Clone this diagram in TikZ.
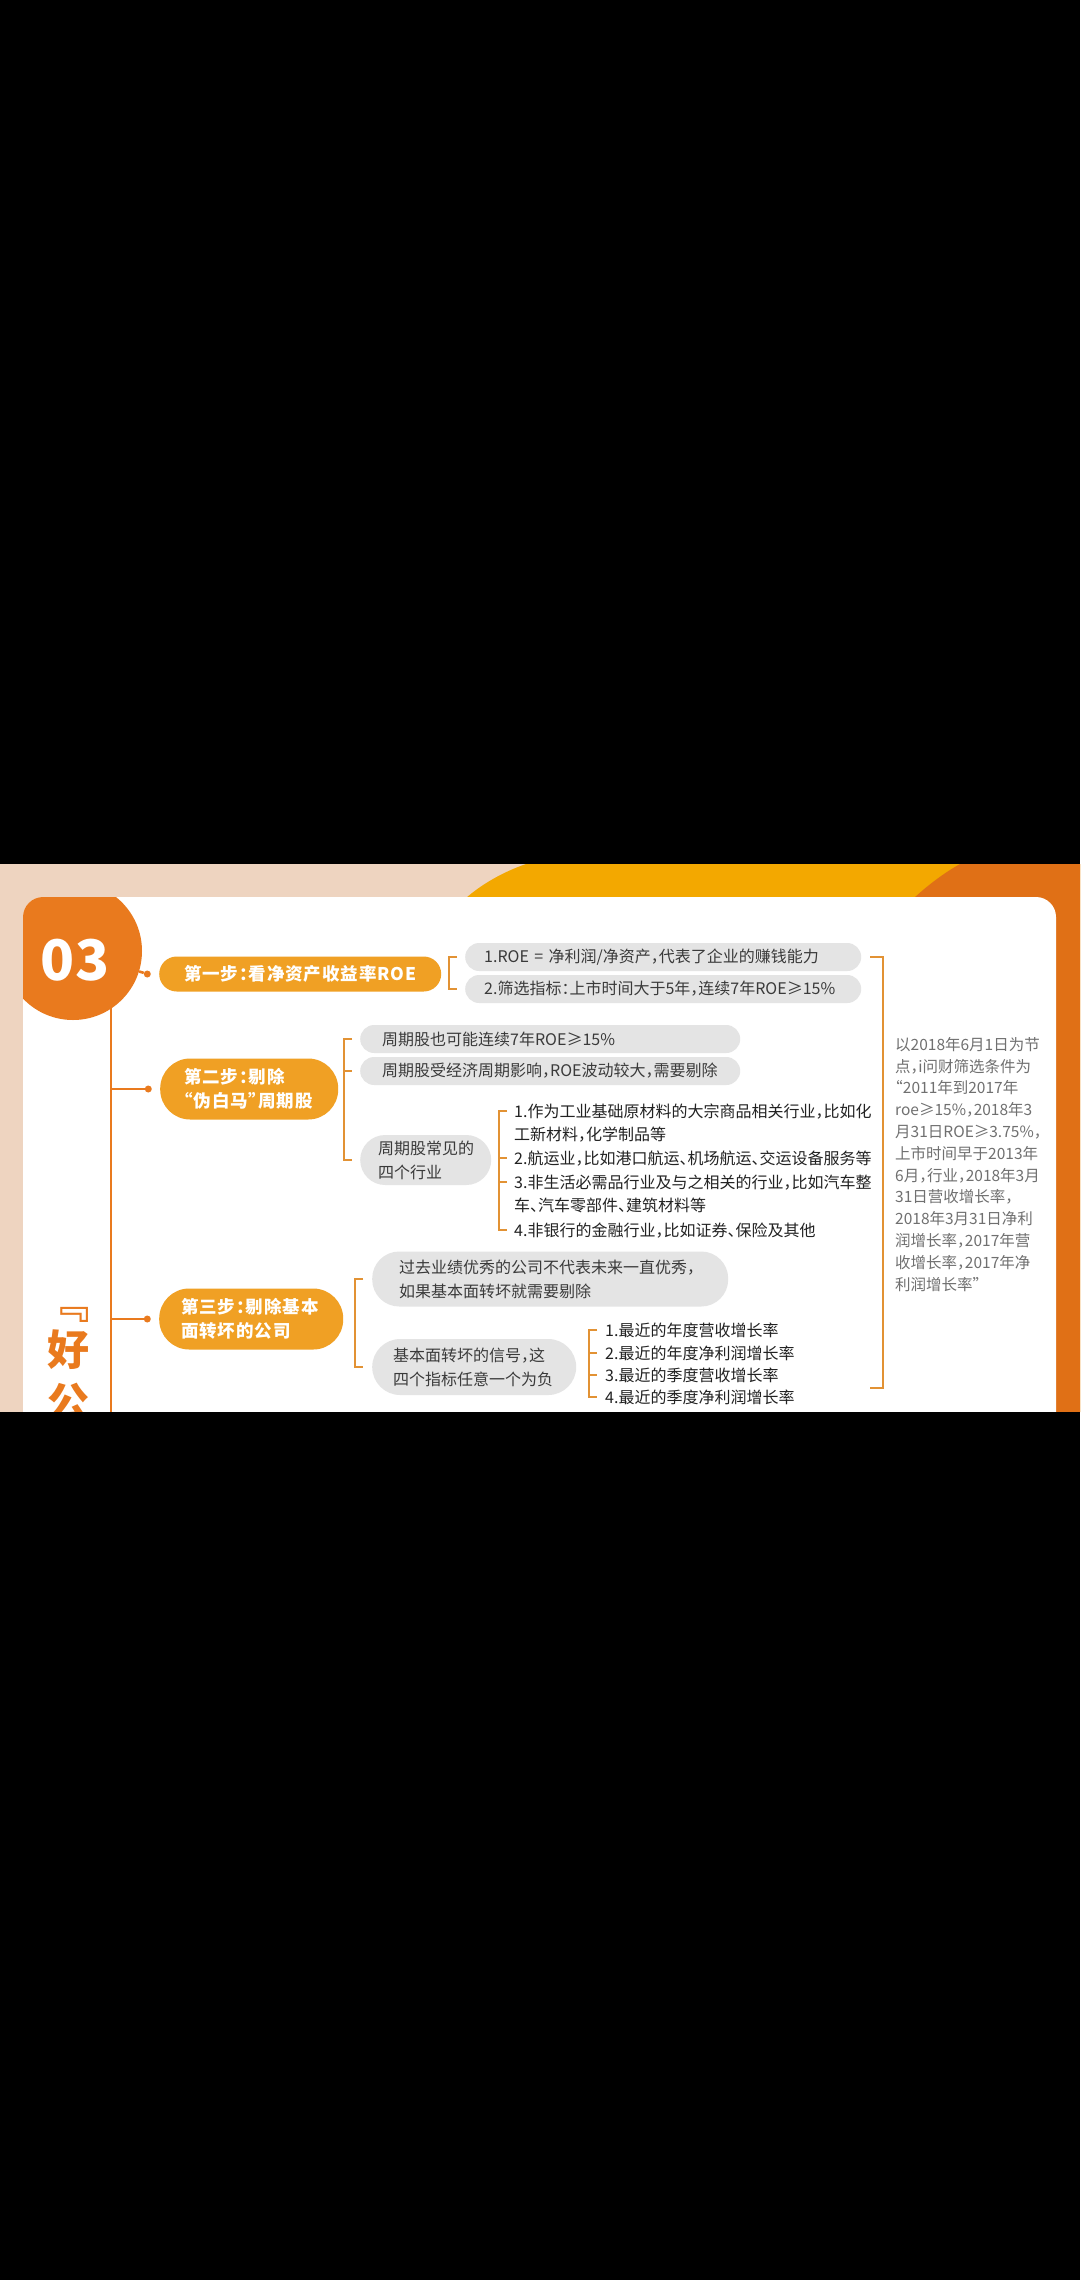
\documentclass[tikz,border=0pt]{standalone}
\usepackage{fontspec}
\setmainfont{Noto Sans CJK SC}[RawFeature=+halt]
\newfontfamily\stepfamily{Noto Sans CJK SC}[RawFeature=+halt, LetterSpace=5]
\usepackage{xcolor}
\usepackage{tikz}
\usetikzlibrary{positioning,calc}
\definecolor{peach}{RGB}{238,212,192}
\definecolor{sunyellow}{RGB}{243,168,0}
\definecolor{deeporange}{RGB}{224,112,22}
\definecolor{brandorange}{RGB}{233,122,30}
\definecolor{stepgold}{RGB}{240,160,36}
\definecolor{pillgray}{RGB}{228,228,228}
\definecolor{inkgray}{RGB}{58,58,58}
\definecolor{darkink}{RGB}{34,34,34}
\definecolor{notegray}{RGB}{112,112,112}
\definecolor{brackgold}{RGB}{226,146,52}
\newcommand\stepfont{\stepfamily\fontsize{17.5}{24}\selectfont\bfseries}
\newcommand\itemfont{\fontsize{16}{23.8}\selectfont}
\newcommand\notefont{\fontsize{15.5}{21.8}\selectfont}

\begin{document}
\begin{tikzpicture}[x=1pt,y=-1pt,
  steppill/.style={fill=stepgold, text=white, font=\stepfont, anchor=west, inner ysep=0pt, align=left},
  graypill/.style={fill=pillgray, text=inkgray, font=\itemfont, anchor=west, inner ysep=0pt, align=left, minimum height=28pt, rounded corners=14pt},
  listtext/.style={text=darkink, font=\itemfont, anchor=base west, inner sep=0pt, align=left},
  notetext/.style={text=notegray, font=\notefont, anchor=base west, inner sep=0pt, align=left},
  trunk/.style={draw=brandorange, line width=2.6pt},
  brk/.style={draw=brackgold, line width=1.6pt},
  bullet/.style={circle, fill=brandorange, inner sep=0pt, minimum size=7pt}]
\useasboundingbox (0,0) rectangle (1080,2280);

% backdrop
\fill[black] (0,0) rectangle (1080,2280);
\fill[peach] (0,864) rectangle (1080,1412);
\fill[sunyellow] (466,898) .. controls (482,884) and (503,872) .. (526,864) -- (1080,864) -- (1080,1412) -- (900,1412) -- cycle;
\fill[deeporange] (914,898) .. controls (928,885) and (944,873) .. (960,864) -- (1080,864) -- (1080,1412) -- (1000,1412) -- cycle;
\fill[white, rounded corners=20pt] (23,897) rectangle (1056,1450);

% spine
\coordinate (spinetop) at (111,1000);
\coordinate (spinebot) at (111,1420);
\draw[trunk] (spinetop) -- (spinebot);

% badge
\begin{scope}
  \clip[rounded corners=20pt] (23,897) rectangle (1056,1450);
  \node[circle, fill=brandorange, minimum size=138pt, inner sep=0pt] (badge) at (73,951) {};
\end{scope}
\node[text=white, font=\fontsize{56}{56}\selectfont\bfseries, inner sep=0pt] (badgenum) at (75,960) {03};
\node[text=brandorange, font=\fontsize{42}{53}\selectfont\bfseries, align=center, inner sep=0pt, anchor=base] (headline) at (68.5,1418) {﹃\\[-6pt]好\\公};

% steps
\node[steppill, minimum width=282pt, minimum height=35pt, rounded corners=17.5pt, inner xsep=0pt, align=center] (step1) at (159,974) {第一步：看净资产收益率ROE};
\node[steppill, text width=130pt, inner xsep=24pt, minimum height=61pt, rounded corners=30pt] (step2) at (160,1089) {第二步：剔除\\“伪白马”周期股};
\node[steppill, text width=140pt, inner xsep=22pt, minimum height=61pt, rounded corners=30pt] (step3) at (159,1319) {第三步：剔除基本\\面转坏的公司};

\node[bullet, left=8pt of step1] (dot1) {};
\node[bullet, left=8pt of step2] (dot2) {};
\node[bullet, left=8pt of step3] (dot3) {};
\draw[trunk] (dot1) -- (badge);
\draw[trunk] (spinetop |- dot2) -- (dot2);
\draw[trunk] (spinetop |- dot3) -- (dot3);

% step 1 items
\node[graypill, text width=358pt, inner xsep=19pt] (roedef) at (465,957) {1.ROE~=~净利润/净资产，代表了企业的赚钱能力};
\node[graypill, text width=358pt, inner xsep=19pt] (roerule) at (465,989) {2.筛选指标：上市时间大于5年，连续7年ROE≥15\%};
\coordinate (b1) at (449,0);
\draw[brk] (b1 |- roedef) ++(8,0) -- (b1 |- roedef) -- (b1 |- roerule) -- ++(8,0);

% step 2 items
\node[graypill, text width=336pt, inner xsep=22pt] (cyc1) at (360,1039) {周期股也可能连续7年ROE≥15\%};
\node[graypill, text width=336pt, inner xsep=22pt] (cyc2) at (360,1071) {周期股受经济周期影响，ROE波动较大，需要剔除};
\node[graypill, text width=95pt, inner xsep=18pt, minimum height=50pt, rounded corners=25pt] (cyc3) at (360,1160) {周期股常见的\\四个行业};
\coordinate (b2) at (344,0);
\draw[brk] (b2 |- cyc1) ++(8,0) -- (b2 |- cyc1) -- (b2 |- cyc3) -- ++(8,0);
\draw[brk] (b2 |- cyc2) -- ++(8,0);

% base = last line, so two-line items sit one line lower
\node[listtext] (ind1) at (514,1140.8) {1.作为工业基础原材料的大宗商品相关行业，比如化\\工新材料，化学制品等};
\node[listtext] (ind2) at (514,1164) {2.航运业，比如港口航运、机场航运、交运设备服务等};
\node[listtext] (ind3) at (514,1211.8) {3.非生活必需品行业及与之相关的行业，比如汽车整\\车、汽车零部件、建筑材料等};
\node[listtext] (ind4) at (514,1236) {4.非银行的金融行业，比如证券、保险及其他};
\coordinate (t1) at ($(ind1.base west)+(-15,-29.8)$);
\coordinate (t2) at ($(ind2.base west)+(-15,-6)$);
\coordinate (t3) at ($(ind3.base west)+(-15,-29.8)$);
\coordinate (t4) at ($(ind4.base west)+(-15,-6)$);
\draw[brk] (t1) ++(8,0) -- (t1) -- (t4) -- ++(8,0);
\draw[brk] (t2) -- ++(8,0) (t3) -- ++(8,0);

% step 3 items
\node[graypill, text width=302pt, inner xsep=27pt, minimum height=55pt, rounded corners=27pt] (turn1) at (372,1279) {过去业绩优秀的公司不代表未来一直优秀，\\如果基本面转坏就需要剔除};
\node[graypill, text width=162pt, inner xsep=21pt, minimum height=56pt, rounded corners=28pt] (turn2) at (372,1367) {基本面转坏的信号，这\\四个指标任意一个为负};
\coordinate (b3) at (355,0);
\draw[brk] (b3 |- turn1) ++(8,0) -- (b3 |- turn1) -- (b3 |- turn2) -- ++(8,0);

\node[listtext] (sig1) at (605,1336) {1.最近的年度营收增长率};
\node[listtext] (sig2) at (605,1359) {2.最近的年度净利润增长率};
\node[listtext] (sig3) at (605,1381) {3.最近的季度营收增长率};
\node[listtext] (sig4) at (605,1403) {4.最近的季度净利润增长率};
\foreach \i in {1,...,4} \coordinate (u\i) at ($(sig\i.base west)+(-16,-6)$);
\draw[brk] (u1) ++(8,0) -- (u1) -- (u4) -- ++(8,0);
\draw[brk] (u2) -- ++(8,0) (u3) -- ++(8,0);

% note on the right
\coordinate (ntop) at (883,957);
\coordinate (nbot) at (883,1388);
\draw[brk] (ntop) ++(-13,0) -- (ntop) -- (nbot) -- ++(-13,0);
\node[notetext] (note) at (895,1290) {以2018年6月1日为节\\点，i问财筛选条件为\\“2011年到2017年\\roe≥15\%，2018年3\\月31日ROE≥3.75\%，\\上市时间早于2013年\\6月，行业，2018年3月\\31日营收增长率，\\2018年3月31日净利\\润增长率，2017年营\\收增长率，2017年净\\利润增长率”};

% cover below
\fill[black] (0,1412) rectangle (1080,2280);
\end{tikzpicture}
\end{document}
